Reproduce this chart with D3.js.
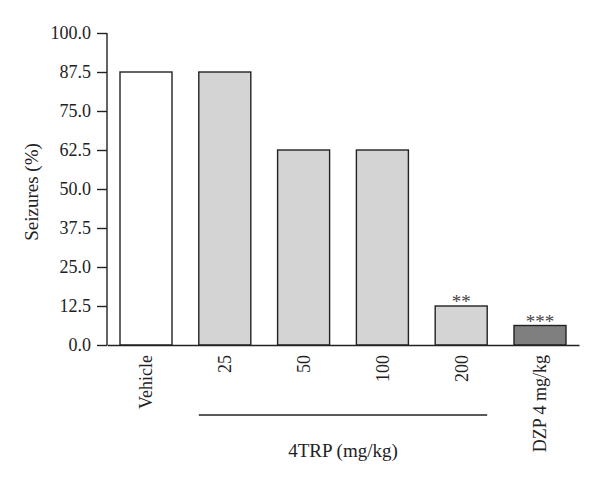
<!DOCTYPE html>
<html>
<head>
<meta charset="utf-8">
<script src="https://cdn.jsdelivr.net/npm/d3@7"></script>
<style>
  body { margin: 0; background: #fff; }
  text { font-family: "Liberation Serif", "DejaVu Serif", serif; fill: #222; }
</style>
</head>
<body>
<svg></svg>
<script>
// data
let groups = ["Vehicle", "25", "50", "100", "200", "DZP 4 mg/kg"];
let seizures = [87.5, 87.5, 62.5, 62.5, 12.5, 6.25];
let fills = ["#ffffff", "#d4d4d4", "#d4d4d4", "#d4d4d4", "#d4d4d4", "#7f7f7f"];
let stars = ["", "", "", "", "**", "***"];
let yTicks = [0, 12.5, 25, 37.5, 50, 62.5, 75, 87.5, 100];

let width = 600;
let height = 485;
let plotLeft = 107;
let plotRight = 579;
let plotTop = 33;
let plotBottom = 345;

let svg = d3.select("svg").attr("width", width).attr("height", height);

let xScale = d3
  .scaleBand()
  .domain(groups)
  .range([plotLeft, plotRight])
  .paddingInner(0.34)
  .paddingOuter(0.165);

let yScale = d3.scaleLinear().domain([0, 100]).range([plotBottom, plotTop]);

// bars
svg
  .selectAll("rect.bar")
  .data(groups)
  .enter()
  .append("rect")
  .attr("class", "bar")
  .attr("x", (d) => xScale(d))
  .attr("y", (d, i) => yScale(seizures[i]))
  .attr("width", xScale.bandwidth())
  .attr("height", (d, i) => plotBottom - yScale(seizures[i]))
  .attr("fill", (d, i) => fills[i])
  .attr("stroke", "#222")
  .attr("stroke-width", 1.4);

// significance stars
svg
  .selectAll("text.star")
  .data(groups)
  .enter()
  .append("text")
  .attr("class", "star")
  .attr("x", (d) => xScale(d) + xScale.bandwidth() / 2)
  .attr("y", (d, i) => yScale(seizures[i]) + 2)
  .attr("text-anchor", "middle")
  .style("font-size", "19px")
  .style("fill", "#444")
  .text((d, i) => stars[i]);

// y axis
let yAxis = d3
  .axisLeft(yScale)
  .tickValues(yTicks)
  .tickFormat(d3.format(".1f"))
  .tickSize(10)
  .tickPadding(6);

let yg = svg
  .append("g")
  .attr("id", "y-axis")
  .attr("transform", `translate(${plotLeft}, 0)`)
  .call(yAxis);
yg.select(".domain").attr("d", `M0,${plotTop}V${plotBottom}`).attr("stroke", "#222").attr("stroke-width", 1.4);
yg.selectAll(".tick line").attr("stroke", "#222").attr("stroke-width", 1.4);
yg.selectAll(".tick text")
  .style("font-family", '"Liberation Serif", serif')
  .style("font-size", "18px")
  .attr("fill", "#222");

// x axis baseline, no ticks
let xAxis = d3.axisBottom(xScale).tickSize(0).tickPadding(10);
let xg = svg
  .append("g")
  .attr("id", "x-axis")
  .attr("transform", `translate(0, ${plotBottom})`)
  .call(xAxis);
xg.select(".domain").attr("stroke", "#222").attr("stroke-width", 1.4);
xg.selectAll(".tick text")
  .style("font-family", '"Liberation Serif", serif')
  .style("font-size", "18px")
  .attr("fill", "#222")
  .attr("text-anchor", "end")
  .attr("transform", "rotate(-90)")
  .attr("x", -10)
  .attr("y", 0)
  .attr("dy", "0.35em");

// bracket under 4TRP doses
svg
  .append("line")
  .attr("x1", xScale("25"))
  .attr("x2", xScale("200") + xScale.bandwidth())
  .attr("y1", 415)
  .attr("y2", 415)
  .attr("stroke", "#222")
  .attr("stroke-width", 1.4);

svg
  .append("text")
  .attr("x", (xScale("25") + xScale("200") + xScale.bandwidth()) / 2)
  .attr("y", 457)
  .attr("text-anchor", "middle")
  .style("font-size", "19px")
  .text("4TRP (mg/kg)");

// y label
svg
  .append("text")
  .attr("transform", `translate(38, ${(plotTop + plotBottom) / 2 + 3}) rotate(-90)`)
  .attr("text-anchor", "middle")
  .style("font-size", "19px")
  .text("Seizures (%)");
</script>
</body>
</html>
